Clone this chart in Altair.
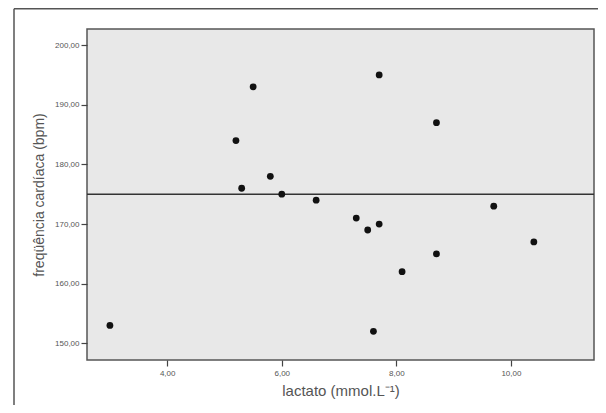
import altair as alt
import pandas as pd

lactato = [3.0, 5.2, 5.5, 5.3, 5.8, 6.0, 6.6, 7.3, 7.5, 7.7, 7.7, 7.6, 8.1, 8.7, 8.7, 9.7, 10.4]
fc = [153, 184, 193, 176, 178, 175, 174, 171, 169, 170, 195, 152, 162, 187, 165, 173, 167]
ref_line = [175]
x_ticks = [4, 6, 8, 10]
y_ticks = [150, 160, 170, 180, 190, 200]

df = pd.DataFrame({"lactato": lactato, "fc": fc})
W, H = 507, 331
FONT = "Liberation Sans"
TXT = "#555555"

x_scale = alt.Scale(domain=[2.6, 11.45], nice=False, zero=False)
y_scale = alt.Scale(domain=[147.2, 202.7], nice=False, zero=False)

label_expr = "replace(format(datum.value, '.2f'), '.', ',')"

points = alt.Chart(df).mark_point(filled=True, color="#111111", size=46, opacity=1).encode(
    x=alt.X("lactato:Q", scale=x_scale,
            axis=alt.Axis(values=x_ticks, labelExpr=label_expr, title="lactato (mmol.L⁻¹)",
                          grid=False, domain=False, tickSize=6, tickColor="#444", tickWidth=1.2,
                          labelFont=FONT, labelFontSize=8, labelColor=TXT, labelPadding=3,
                          titleFont=FONT, titleFontSize=15, titleFontWeight="normal",
                          titleColor=TXT, titlePadding=6)),
    y=alt.Y("fc:Q", scale=y_scale,
            axis=alt.Axis(values=y_ticks, labelExpr=label_expr, title="freqüência cardíaca (bpm)",
                          grid=False, domain=False, tickSize=6, tickColor="#444", tickWidth=1.2,
                          labelFont=FONT, labelFontSize=8, labelColor=TXT, labelPadding=2,
                          titleFont=FONT, titleFontSize=14, titleFontWeight="normal",
                          titleColor=TXT, titlePadding=8)),
)

hline = alt.Chart(pd.DataFrame({"y": ref_line})).mark_rule(color="#333333", strokeWidth=1.5).encode(
    y=alt.Y("y:Q", scale=y_scale)
)

frame_top = alt.Chart(pd.DataFrame({"a": [0]})).mark_rule(color="#555555", strokeWidth=1.5).encode(
    x=alt.value(-73), x2=alt.value(520), y=alt.value(-20.2)
)
frame_left = alt.Chart(pd.DataFrame({"a": [0]})).mark_rule(color="#555555", strokeWidth=1.5).encode(
    x=alt.value(-73), y=alt.value(-20.2), y2=alt.value(400)
)

chart = alt.layer(frame_top, frame_left, hline, points).properties(
    width=W, height=H,
    autosize=alt.AutoSizeParams(type="none"),
    padding={"left": 79, "top": 21, "right": 4, "bottom": 45},
    background="white",
).configure_view(
    fill="#e8e8e8", stroke="#555555", strokeWidth=1.5
)

chart.save("out.html", embed_options={"renderer": "svg", "actions": False})
